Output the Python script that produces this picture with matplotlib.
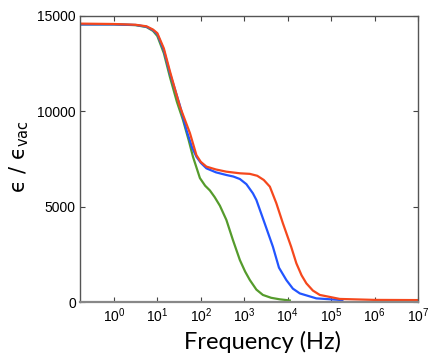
import matplotlib
matplotlib.use("Agg")
import matplotlib.pyplot as plt
import numpy as np

plt.rcParams['font.family'] = ['Liberation Sans', 'DejaVu Sans']

# valores (expoente de 10 da frequência, eps/eps_vac)
log_f_verde = [-0.78, 0.0, 0.5, 0.75, 0.9, 1.0, 1.15, 1.29, 1.45, 1.59, 1.72, 1.82, 1.98, 2.1, 2.21, 2.32,
               2.44, 2.59, 2.74, 2.90, 3.02, 3.13, 3.28, 3.43, 3.62, 3.82, 4.05]
eps_verde = [14560, 14560, 14520, 14420, 14220, 13950, 13050, 11800, 10500, 9550, 8500, 7620, 6500, 6100, 5850,
             5500, 5050, 4300, 3250, 2200, 1600, 1150, 650, 370, 220, 140, 80]

log_f_azul = [-0.78, 0.0, 0.5, 0.75, 0.9, 1.0, 1.15, 1.29, 1.52, 1.67, 1.80, 1.90, 2.0, 2.13, 2.35, 2.59,
              2.75, 2.90, 3.05, 3.20, 3.28, 3.47, 3.66, 3.80, 3.97, 4.12, 4.28, 4.66, 5.26]
eps_azul = [14560, 14560, 14530, 14440, 14260, 14050, 13200, 12000, 10300, 9020, 8100, 7620, 7300, 7010, 6800, 6660,
            6580, 6450, 6180, 5700, 5350, 4130, 2900, 1800, 1150, 700, 450, 190, 100]

log_f_vermelho = [-0.78, 0.0, 0.5, 0.75, 0.9, 1.0, 1.15, 1.29, 1.52, 1.75, 1.90, 2.0, 2.13, 2.35, 2.59, 2.9,
                  3.13, 3.30, 3.45, 3.59, 3.74, 3.89, 4.08, 4.20, 4.32, 4.43, 4.58, 4.74, 5.2, 6.0, 7.0]
eps_vermelho = [14600, 14580, 14540, 14460, 14290, 14100, 13300, 12100, 10250, 8860, 7700, 7350, 7100, 6950, 6835, 6750,
                6720, 6620, 6400, 6050, 5175, 4130, 2900, 2030, 1400, 980, 600, 370, 160, 110, 100]

curvas = [(log_f_verde, eps_verde, '#559b2c'),
          (log_f_azul, eps_azul, '#2255ff'),
          (log_f_vermelho, eps_vermelho, '#f5481d')]

fig = plt.figure(figsize=(4.36, 3.61), dpi=100)
ax = fig.add_axes([80/436, 1 - 302/361, 338/436, 286/361])

for lf, e, cor in curvas:
    ax.plot(10 ** np.array(lf), e, color=cor, lw=1.6)

ax.set_xscale('log')
ax.set_xlim(10 ** -0.78, 1e7)
ax.set_ylim(0, 15000)
ax.set_xticks([10.0 ** k for k in range(0, 8)])
ax.minorticks_off()
ax.set_yticks([0, 5000, 10000, 15000])

for s in ax.spines.values():
    s.set_color('#555555')
    s.set_linewidth(1.0)
ax.spines['bottom'].set_color('#888888')
ax.spines['bottom'].set_linewidth(1.6)

ax.tick_params(direction='in', length=3.5, width=0.8, color='#444444',
               top=True, right=True, labelsize=10, pad=3)

fig.text(262/436, 1 - 342/361, 'Frequency (Hz)', fontsize=17, family=['Lato', 'DejaVu Sans'],
         ha='center', va='center')
fig.text(19/436, 1 - 157/361, 'ϵ / ϵ$_{\\mathregular{vac}}$', fontsize=15, rotation=90,
         family=['DejaVu Sans'], ha='center', va='center')

fig.savefig('out.png', dpi=100)
